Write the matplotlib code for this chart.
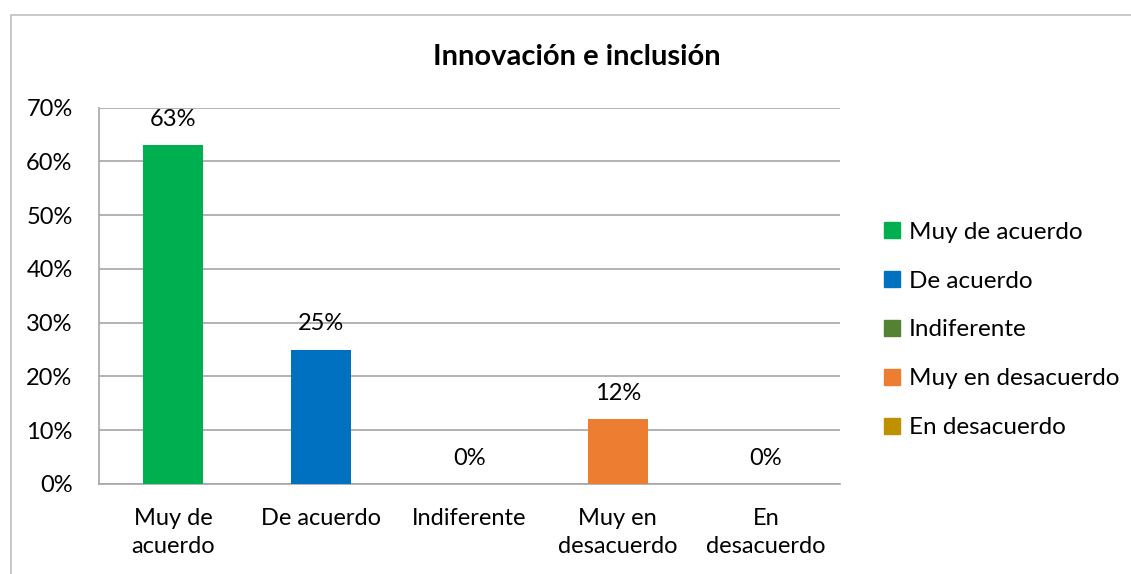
import matplotlib
matplotlib.use('Agg')
import matplotlib.pyplot as plt
import matplotlib.patches as patches
from matplotlib.ticker import PercentFormatter

# data
categories = ['Muy de\nacuerdo', 'De acuerdo', 'Indiferente', 'Muy en\ndesacuerdo', 'En\ndesacuerdo']
legend_names = ['Muy de acuerdo', 'De acuerdo', 'Indiferente', 'Muy en desacuerdo', 'En desacuerdo']
values = [63, 25, 0, 12, 0]
colors = ['#00b050', '#0070c0', '#548235', '#ed7d31', '#bf9000']
yticks = [0, 10, 20, 30, 40, 50, 60, 70]

plt.rcParams['font.family'] = ['Lato', 'DejaVu Sans']

W, H = 1131, 574
fig = plt.figure(figsize=(W / 100, H / 100), dpi=100)

# outer chart border (only top and left visible in the crop)
fig.add_artist(patches.Rectangle((11 / W, -0.1), 1.2, (H - 15) / H + 0.1,
                                 transform=fig.transFigure, fill=False,
                                 edgecolor='#bfbfbf', linewidth=1.2))

ax = fig.add_axes([99 / W, (H - 484) / H, (840 - 99) / W, (484 - 107.5) / H])
x = range(len(values))
bars = ax.bar(x, values, width=0.405, color=colors, zorder=3)

for xi, v in zip(x, values):
    ax.annotate('{0}%'.format(v), (xi, v), xytext=(0, 11), textcoords='offset points',
                ha='center', va='bottom', fontsize=17, color='#000000')

ax.set_xlim(-0.5, len(values) - 0.5)
ax.set_ylim(0, 70)
ax.set_yticks(yticks)
ax.yaxis.set_major_formatter(PercentFormatter(decimals=0))
ax.set_xticks(list(x))
ax.set_xticklabels(categories, linespacing=1.45)
ax.tick_params(axis='both', length=0, labelsize=17, colors='#000000')
ax.tick_params(axis='x', pad=17)
ax.tick_params(axis='y', pad=19)
ax.grid(axis='y', color='#a6a6a6', linewidth=1.2, zorder=0)
for s in ['top', 'right']:
    ax.spines[s].set_visible(False)
for s in ['left', 'bottom']:
    ax.spines[s].set_color('#a6a6a6')
    ax.spines[s].set_linewidth(1.2)

fig.text(577 / W, (H - 57) / H, 'Innovación e inclusión', ha='center', va='center',
         fontsize=21, fontweight='bold')

handles = [patches.Patch(color=c) for c in colors]
fig.legend(handles, legend_names, loc='center left', bbox_to_anchor=(862 / W, (H - 330) / H),
           frameon=False, fontsize=17.5, handlelength=0.68, handleheight=0.68,
           handletextpad=0.35, labelspacing=1.15)

plt.savefig('out.png', dpi=100)
